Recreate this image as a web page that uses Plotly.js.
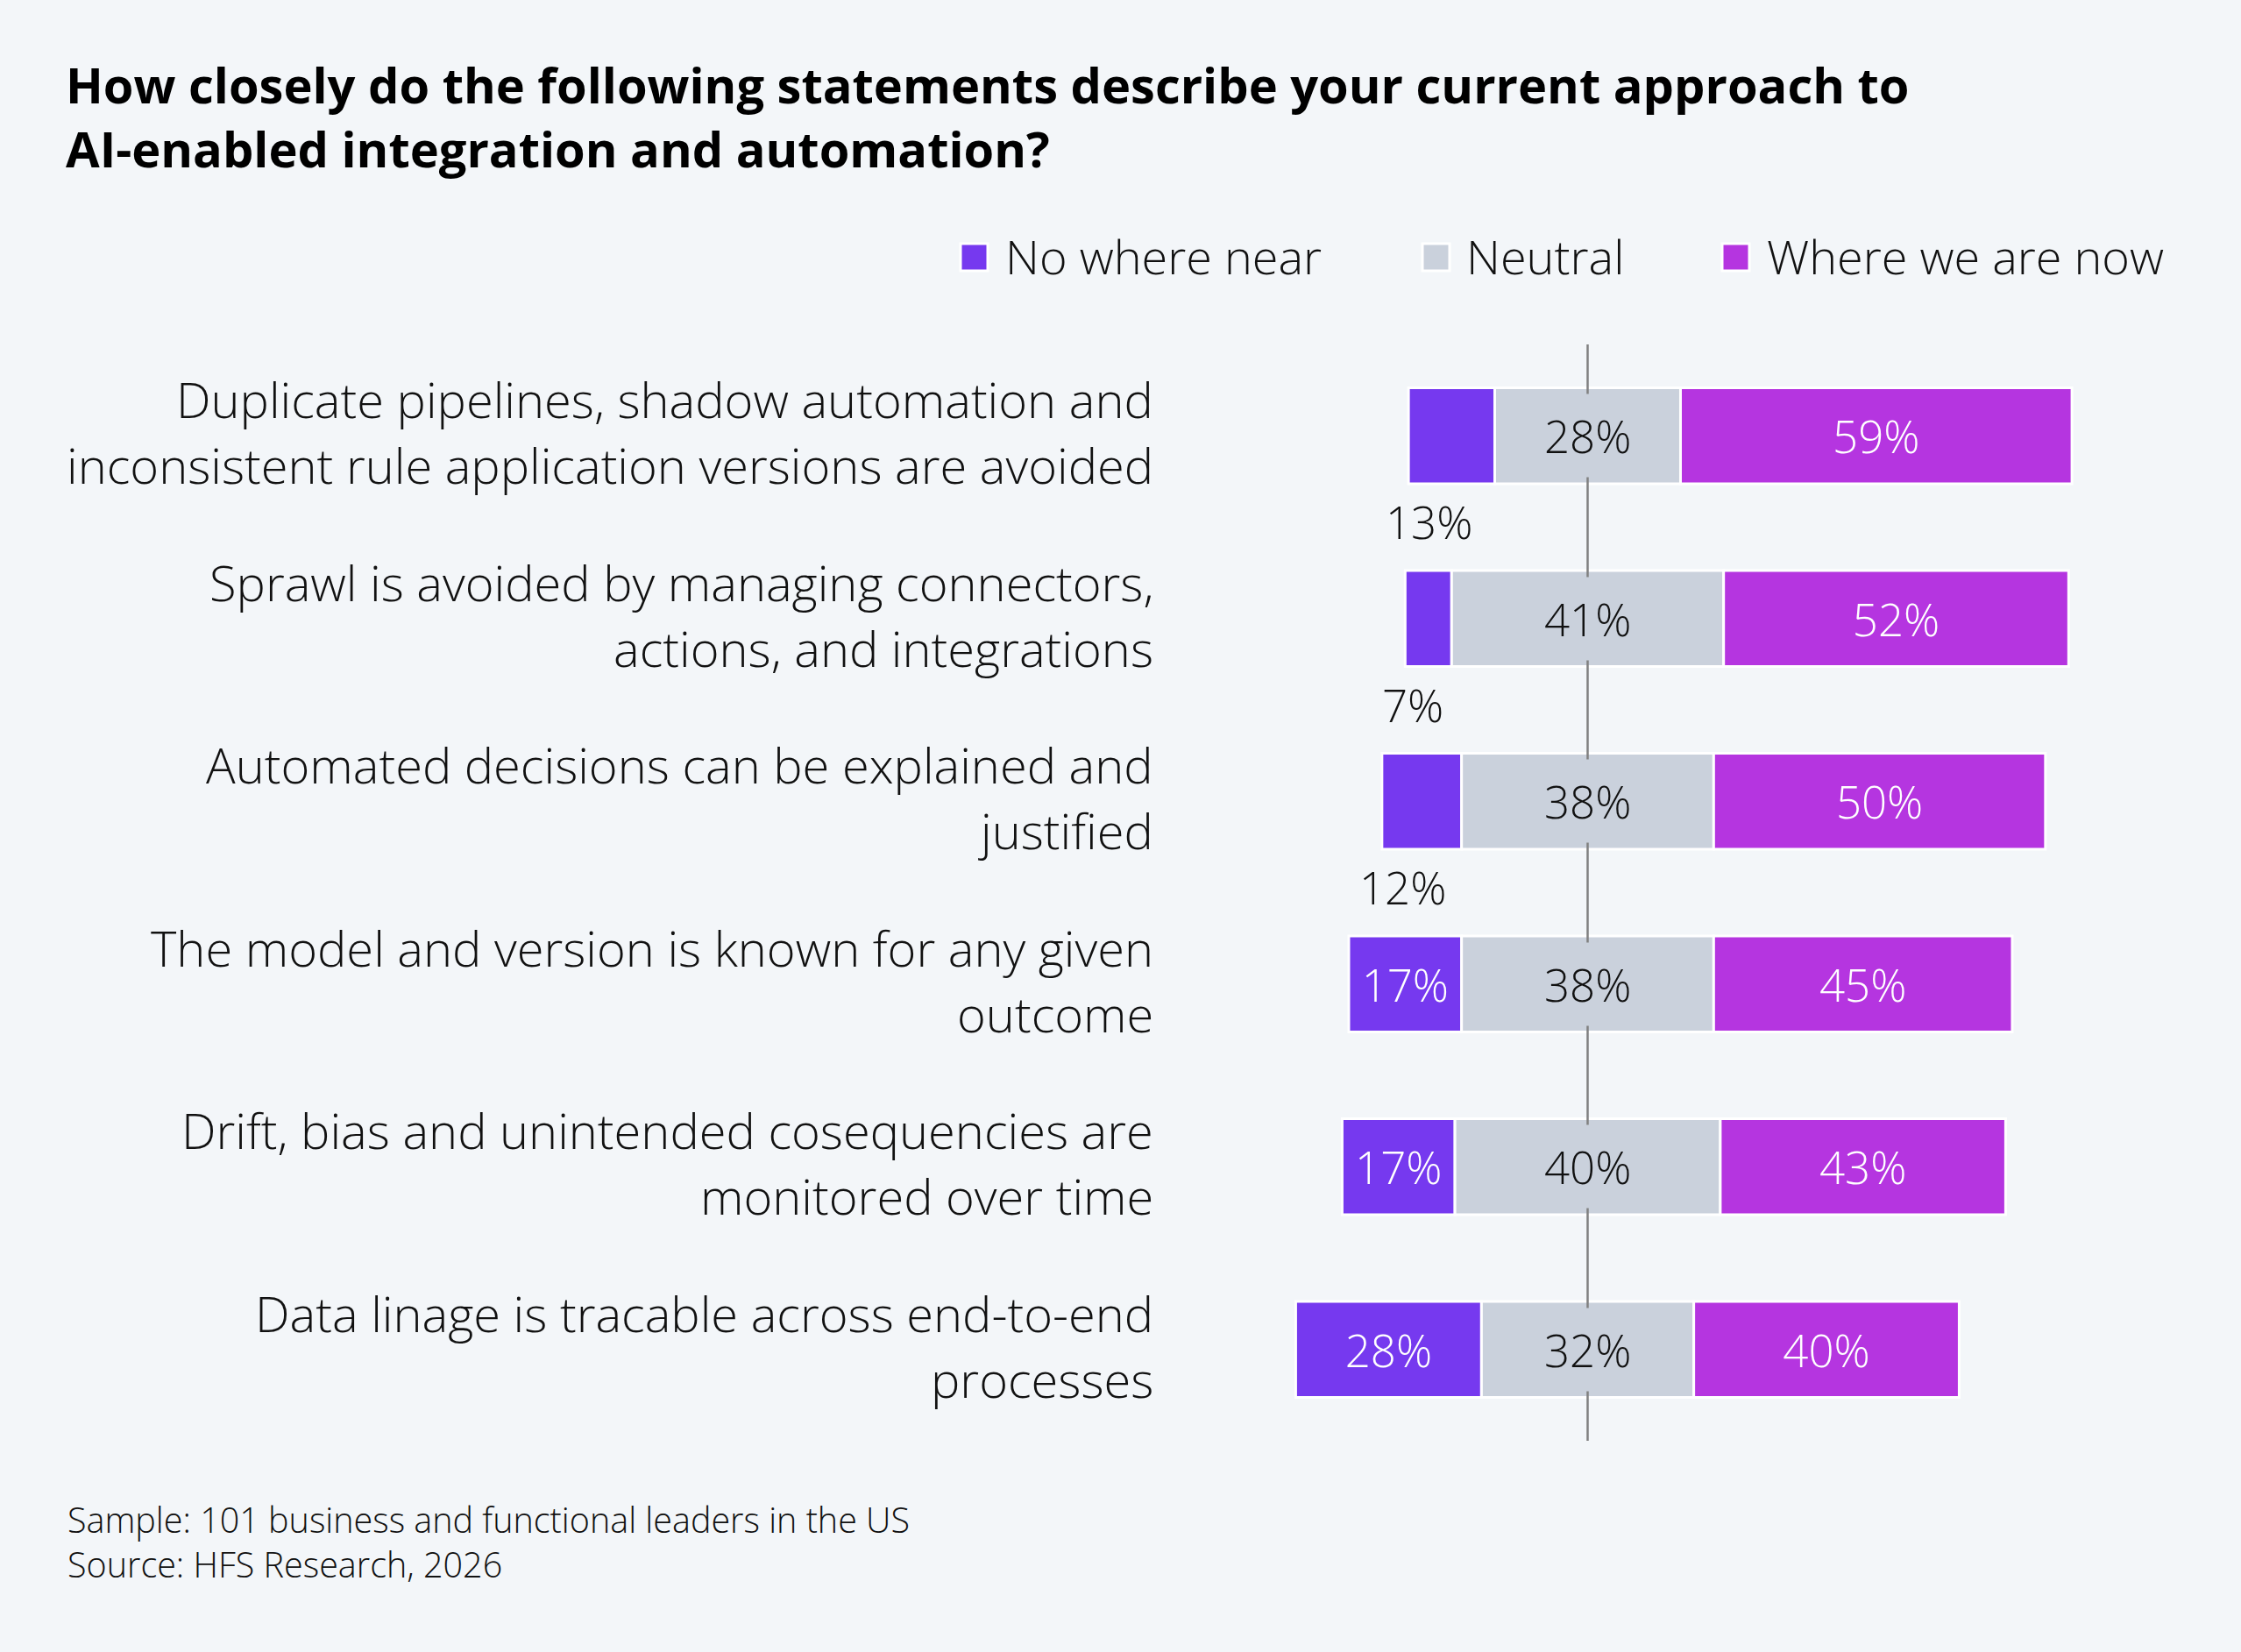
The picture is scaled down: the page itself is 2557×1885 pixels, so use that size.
<!DOCTYPE html>
<html>
<head>
<meta charset="utf-8">
<script src="https://cdn.plot.ly/plotly-3.0.1.min.js"></script>
<style>
  html, body { margin: 0; padding: 0; background: #F3F6F9; }
  #chart { width: 2557px; height: 1885px; }
</style>
</head>
<body>
<div id="chart"></div>
<script>
// ---------- DATA ----------
const statementLine1 = [
  "Duplicate pipelines, shadow automation and",
  "Sprawl is avoided by managing connectors,",
  "Automated decisions can be explained and",
  "The model and version is known for any given",
  "Drift, bias and unintended cosequencies are",
  "Data linage is tracable across end-to-end"
];
const statementLine2 = [
  "inconsistent rule application versions are avoided",
  "actions, and integrations",
  "justified",
  "outcome",
  "monitored over time",
  "processes"
];
const categories = ["S1", "S2", "S3", "S4", "S5", "S6"];
const noWhereNear = [13, 7, 12, 17, 17, 28];
const neutral = [28, 41, 38, 38, 40, 32];
const whereWeAreNow = [59, 52, 50, 45, 43, 40];
const seriesNames = ["No where near", "Neutral", "Where we are now"];
const seriesColors = ["#7639EF", "#CAD1DC", "#B535E0"];

const titleText = "How closely do the following statements describe your current approach to<br>AI-enabled integration and automation?";
const footerText = "Sample: 101 business and functional leaders in the US<br>Source: HFS Research, 2026";

// ---------- LAYOUT GEOMETRY ----------
const W = 2557, H = 1885;
const M = { l: 1336, r: 60, t: 393, b: 241 };
const plotW = W - M.l - M.r, plotH = H - M.t - M.b;
const xp = px => (px - M.l) / plotW;
const yp = py => (H - M.b - py) / plotH;
const CENTER_PX = 1811.5, PX_PER_UNIT = 7.57;

const FONT = "'Open Sans', 'Noto Sans', sans-serif";
const INSIDE_MIN = 15;
const VAL_SIZE = 51;

// Diverging bases: neutral centered at 0
const baseLeft = categories.map((c, i) => -(neutral[i] / 2 + noWhereNear[i]));
const baseNeutral = categories.map((c, i) => -neutral[i] / 2);
const baseRight = categories.map((c, i) => neutral[i] / 2);

const barCommon = {
  type: 'bar', orientation: 'h', y: categories,
  textposition: 'inside', insidetextanchor: 'middle',
  textfont: { family: FONT, size: VAL_SIZE, color: '#FFFFFF', weight: 300 },
  hoverinfo: 'skip', showlegend: false, constraintext: 'none'
};

const traces = [
  Object.assign({}, barCommon, {
    name: seriesNames[0], x: noWhereNear, base: baseLeft,
    marker: { color: seriesColors[0], line: { color: '#FFFFFF', width: 3 } },
    text: noWhereNear.map(v => v >= INSIDE_MIN ? v + '%' : '')
  }),
  Object.assign({}, barCommon, {
    name: seriesNames[1], x: neutral, base: baseNeutral,
    marker: { color: seriesColors[1], line: { color: '#FFFFFF', width: 3 } },
    text: neutral.map(() => '')
  }),
  Object.assign({}, barCommon, {
    name: seriesNames[2], x: whereWeAreNow, base: baseRight,
    marker: { color: seriesColors[2], line: { color: '#FFFFFF', width: 3 } },
    text: whereWeAreNow.map(v => v + '%')
  })
];

const annotations = [];
// Category labels (two lines each)
categories.forEach((c, i) => {
  annotations.push({
    xref: 'paper', yref: 'y', x: xp(1318), y: c, yshift: 42,
    xanchor: 'right', yanchor: 'middle', showarrow: false,
    text: statementLine1[i],
    font: { family: FONT, size: 56, color: '#111111', weight: 300 }
  });
  annotations.push({
    xref: 'paper', yref: 'y', x: xp(1318), y: c, yshift: -33,
    xanchor: 'right', yanchor: 'middle', showarrow: false,
    text: statementLine2[i],
    font: { family: FONT, size: 56, color: '#111111', weight: 300 }
  });
});
// Neutral labels with a background box covering the centre line
categories.forEach((c, i) => {
  annotations.push({
    xref: 'x', yref: 'y', x: 0, y: c, showarrow: false,
    xanchor: 'center', yanchor: 'middle',
    text: neutral[i] + '%', bgcolor: seriesColors[1], borderpad: 12,
    font: { family: FONT, size: VAL_SIZE, color: '#111111', weight: 300 }
  });
});
// Small "No where near" labels placed beneath the bar
categories.forEach((c, i) => {
  if (noWhereNear[i] < INSIDE_MIN) {
    annotations.push({
      xref: 'x', yref: 'y', x: baseLeft[i], y: c, xshift: -28, yshift: -98,
      xanchor: 'left', yanchor: 'middle', showarrow: false,
      text: noWhereNear[i] + '%',
      font: { family: FONT, size: VAL_SIZE, color: '#111111', weight: 300 }
    });
  }
});
// Legend (custom, large swatches)
const legendSwatchX = [1096, 1623, 1965];
const legendTextX = [1145, 1671, 2014];
const legendY = 292;
const shapes = [];
seriesNames.forEach((n, i) => {
  shapes.push({
    type: 'rect', xref: 'paper', yref: 'paper',
    x0: xp(legendSwatchX[i]), x1: xp(legendSwatchX[i] + 31),
    y0: yp(legendY + 17), y1: yp(legendY - 14),
    fillcolor: seriesColors[i], line: { color: '#FFFFFF', width: 3 }, layer: 'above'
  });
  annotations.push({
    xref: 'paper', yref: 'paper', x: xp(legendTextX[i]), y: yp(legendY),
    xanchor: 'left', yanchor: 'middle', showarrow: false, text: n,
    font: { family: FONT, size: 54, color: '#111111', weight: 300 }
  });
});
// Footer
annotations.push({
  xref: 'paper', yref: 'paper', x: xp(75), y: yp(1705),
  xanchor: 'left', yanchor: 'top', align: 'left', showarrow: false,
  text: footerText,
  font: { family: FONT, size: 39.5, color: '#111111', weight: 300 }
});
// Centre line
shapes.push({
  type: 'line', xref: 'x', yref: 'paper', x0: 0, x1: 0, y0: 0, y1: 1,
  line: { color: '#808080', width: 2.5 }, layer: 'above'
});

const layout = {
  width: W, height: H,
  paper_bgcolor: '#F3F6F9', plot_bgcolor: '#F3F6F9',
  margin: M,
  barmode: 'overlay', bargap: 0.475,
  showlegend: false,
  title: {
    text: titleText, x: 75 / W, xanchor: 'left', xref: 'container',
    y: 1 - 118 / H, yanchor: 'top', yref: 'container',
    font: { family: FONT, size: 56, color: '#000000', weight: 700 }
  },
  xaxis: {
    range: [(M.l - CENTER_PX) / PX_PER_UNIT, (W - M.r - CENTER_PX) / PX_PER_UNIT],
    showgrid: false, zeroline: false, showticklabels: false, showline: false, fixedrange: true
  },
  yaxis: {
    type: 'category', categoryorder: 'array', categoryarray: categories,
    range: [categories.length - 0.5, -0.5],
    showgrid: false, zeroline: false, showticklabels: false, showline: false, fixedrange: true
  },
  annotations: annotations,
  shapes: shapes,
  font: { family: FONT }
};

Plotly.newPlot('chart', traces, layout, { displayModeBar: false, staticPlot: true });
</script>
</body>
</html>
